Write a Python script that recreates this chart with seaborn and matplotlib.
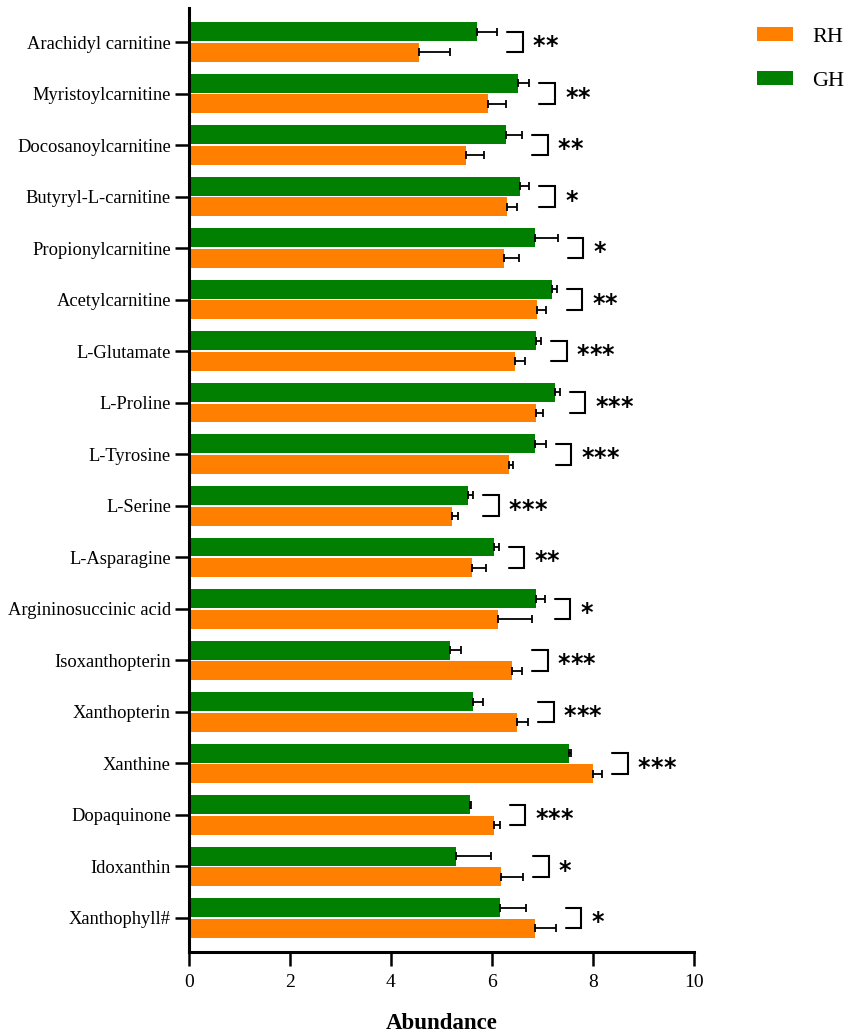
import numpy as np
import pandas as pd
import matplotlib
matplotlib.use("Agg")
import matplotlib.pyplot as plt
import seaborn as sns

metabolites = ["Arachidyl carnitine", "Myristoylcarnitine", "Docosanoylcarnitine",
               "Butyryl-L-carnitine", "Propionylcarnitine", "Acetylcarnitine",
               "L-Glutamate", "L-Proline", "L-Tyrosine", "L-Serine", "L-Asparagine",
               "Argininosuccinic acid", "Isoxanthopterin", "Xanthopterin", "Xanthine",
               "Dopaquinone", "Idoxanthin", "Xanthophyll#"]
gh_mean = [5.70, 6.51, 6.27, 6.55, 6.85, 7.18, 6.87, 7.24, 6.86, 5.53, 6.04, 6.87,
           5.17, 5.62, 7.52, 5.57, 5.29, 6.15]
gh_err = [0.40, 0.23, 0.32, 0.19, 0.45, 0.10, 0.10, 0.10, 0.20, 0.10, 0.09, 0.17,
          0.21, 0.20, 0.04, 0.02, 0.69, 0.53]
rh_mean = [4.55, 5.92, 5.49, 6.29, 6.23, 6.90, 6.45, 6.88, 6.33, 5.20, 5.61, 6.12,
           6.39, 6.50, 8.00, 6.03, 6.17, 6.86]
rh_err = [0.61, 0.35, 0.36, 0.20, 0.31, 0.16, 0.21, 0.13, 0.08, 0.13, 0.27, 0.67,
          0.20, 0.21, 0.18, 0.12, 0.45, 0.40]
stars = ["**", "**", "**", "*", "*", "**", "***", "***", "***", "***", "**", "*",
         "***", "***", "***", "***", "*", "*"]
groups = ["GH", "RH"]
colors = {"GH": "#007F00", "RH": "#FF8000"}

df = pd.DataFrame({
    "metabolite": metabolites * 2,
    "abundance": gh_mean + rh_mean,
    "group": ["GH"] * len(metabolites) + ["RH"] * len(metabolites),
})
errs = {"GH": gh_err, "RH": rh_err}

sns.set_style("ticks")
plt.rcParams["font.family"] = ["Liberation Serif", "DejaVu Serif"]
for key in ["text.color", "axes.labelcolor", "xtick.color", "ytick.color", "axes.edgecolor"]:
    plt.rcParams[key] = "black"

fig = plt.figure(figsize=(8.51, 10.36), dpi=100)
ax = fig.add_axes([189 / 851, 84 / 1036, 505 / 851, 944 / 1036])

sns.barplot(data=df, y="metabolite", x="abundance", hue="group", hue_order=groups,
            palette=colors, orient="h", width=0.8, gap=0.08, errorbar=None,
            saturation=1, linewidth=0, ax=ax)

# one-sided error bars on each bar
centers = {}
for g, cont in zip(groups, ax.containers):
    ys = np.array([b.get_y() + b.get_height() / 2 for b in cont])
    centers[g] = ys
    ax.errorbar(x=np.array(cont.datavalues), y=ys,
                xerr=[np.zeros(len(ys)), np.array(errs[g])],
                fmt="none", ecolor="black", elinewidth=1.3, capsize=3.2,
                capthick=1.3, zorder=3)

# significance brackets and stars
hi = np.maximum(np.array(gh_mean) + np.array(gh_err), np.array(rh_mean) + np.array(rh_err))
for i, s in enumerate(stars):
    x0 = hi[i] + 0.2
    x1 = x0 + 0.31
    y0, y1 = centers["GH"][i], centers["RH"][i]
    ax.plot([x0, x1, x1, x0], [y0, y0, y1, y1], color="black", lw=1.5,
            solid_joinstyle="miter", clip_on=False)
    for k in range(len(s)):
        ax.text(x1 + 0.32 + k * 0.25, (y0 + y1) / 2 + 0.08, "*", ha="center",
                va="center", fontsize=17, fontweight="bold", family="DejaVu Sans",
                color="black", clip_on=False)

ax.set_xlim(0, 10)
ax.set_xticks([0, 2, 4, 6, 8, 10])
ax.set_ylim(len(metabolites) - 1 + 0.66, -0.66)
ax.set_ylabel("")
ax.set_xlabel("Abundance", fontsize=16.5, fontweight="bold", labelpad=16)
ax.tick_params(axis="both", length=10, width=1.8, color="black", labelcolor="black")
ax.tick_params(axis="y", labelsize=13.3, pad=3)
ax.tick_params(axis="x", labelsize=14, pad=6)
for side in ["top", "right"]:
    ax.spines[side].set_visible(False)
for side in ["left", "bottom"]:
    ax.spines[side].set_linewidth(2.2)
    ax.spines[side].set_color("black")

handles, labels = ax.get_legend_handles_labels()
order = [labels.index("RH"), labels.index("GH")]
ax.legend([handles[k] for k in order], [labels[k] for k in order],
          loc="upper left", bbox_to_anchor=(757 / 851, 1 - 27 / 1036),
          bbox_transform=fig.transFigure, frameon=False, fontsize=16,
          handlelength=1.6, handleheight=0.58, handletextpad=0.9,
          labelspacing=1.08, borderpad=0, borderaxespad=0)

fig.savefig("out.png", dpi=100)
